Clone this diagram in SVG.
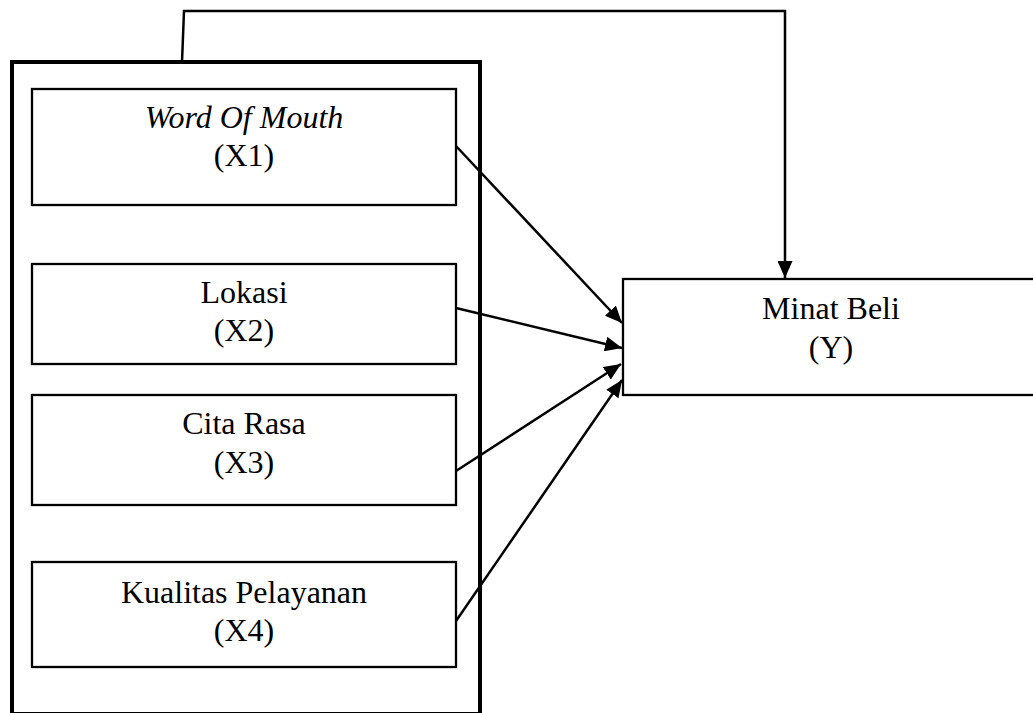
<svg xmlns="http://www.w3.org/2000/svg" width="1033" height="713" viewBox="0 0 1033 713">
<style>
.box{fill:#fff;stroke:#000;stroke-width:2.3}
.outer{fill:none;stroke:#000;stroke-width:4}
.t{font-family:"Liberation Serif","Times New Roman",serif;font-size:32px;fill:#000;text-anchor:middle}
.c{fill:none;stroke:#000;stroke-width:2.5}
</style>
<defs>
<marker id="ah" markerUnits="userSpaceOnUse" markerWidth="19" markerHeight="15" refX="17" refY="7.5" orient="auto">
<path d="M0,0 L17,7.5 L0,15 Z" fill="#000"/>
</marker>
</defs>
<rect width="1033" height="713" fill="#fff"/>
<g id="group-outer">
<rect class="outer" x="12" y="62" width="468" height="652"/>
</g>
<g id="node-x1">
<rect class="box" x="32" y="89" width="424" height="116"/>
<text class="t" x="244" y="128" font-style="italic">Word Of Mouth</text>
<text class="t" x="244" y="166">(X1)</text>
</g>
<g id="node-x2">
<rect class="box" x="32" y="264" width="424" height="100"/>
<text class="t" x="244" y="303">Lokasi</text>
<text class="t" x="244" y="341">(X2)</text>
</g>
<g id="node-x3">
<rect class="box" x="32" y="395" width="424" height="110"/>
<text class="t" x="244" y="434">Cita Rasa</text>
<text class="t" x="244" y="473">(X3)</text>
</g>
<g id="node-x4">
<rect class="box" x="32" y="562" width="424" height="105"/>
<text class="t" x="244" y="603">Kualitas Pelayanan</text>
<text class="t" x="244" y="641">(X4)</text>
</g>
<g id="node-y">
<rect class="box" x="623" y="279" width="430" height="116"/>
<text class="t" x="831" y="319">Minat Beli</text>
<text class="t" x="831" y="358">(Y)</text>
</g>
<g id="connectors">
<path class="c" d="M182,62 L184,11 L785,11 L785,278" marker-end="url(#ah)"/>
<line class="c" x1="456" y1="146" x2="622" y2="323" marker-end="url(#ah)"/>
<line class="c" x1="456" y1="308" x2="622" y2="348" marker-end="url(#ah)"/>
<line class="c" x1="456" y1="471" x2="621" y2="364" marker-end="url(#ah)"/>
<line class="c" x1="456" y1="621" x2="622" y2="380" marker-end="url(#ah)"/>
</g>
</svg>
